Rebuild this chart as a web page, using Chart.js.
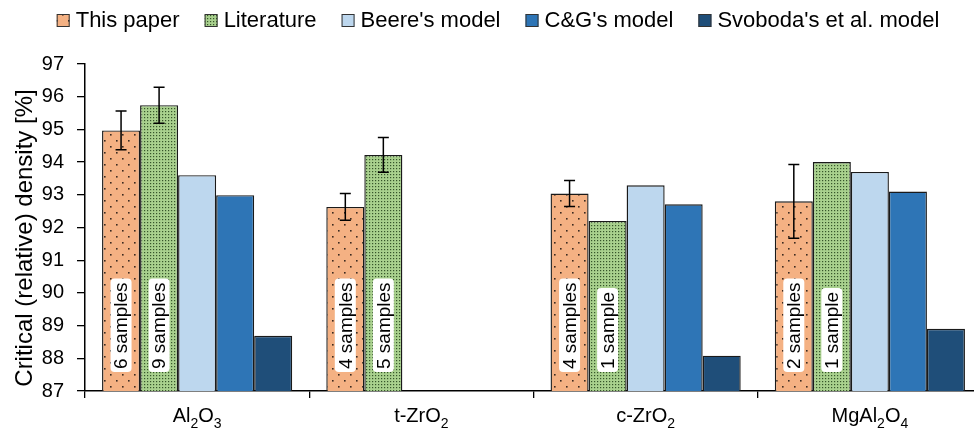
<!DOCTYPE html>
<html>
<head>
<meta charset="utf-8">
<script src="https://cdn.jsdelivr.net/npm/chart.js@4.4.1/dist/chart.umd.min.js"></script>
<style>
  html, body { margin: 0; padding: 0; background: #fff; overflow: hidden; }
  #wrap { width: 974px; height: 429px; overflow: hidden; }
</style>
</head>
<body>
<div id="wrap"><canvas id="c" width="996" height="429"></canvas></div>
<script>
// data
const categories = ['Al₂O₃', 't-ZrO₂', 'c-ZrO₂', 'MgAl₂O₄'];
const thisPaper = [94.97, 92.63, 93.04, 92.8];
const thisPaperErr = [0.59, 0.41, 0.4, 1.13];
const literature = [95.74, 94.22, 92.2, 94.0];
const literatureErr = [0.55, 0.53, null, null];
const beere = [93.6, null, 93.29, 93.7];
const cg = [92.99, null, 92.71, 93.1];
const svoboda = [88.69, null, 88.08, 88.9];
const thisPaperSamples = ['6 samples', '4 samples', '4 samples', '2 samples'];
const literatureSamples = ['9 samples', '5 samples', '1 sample', '1 sample'];
const yTicks = [87, 88, 89, 90, 91, 92, 93, 94, 95, 96, 97];
const yTitle = 'Critical (relative) density [%]';

const FONT = 'Liberation Sans, Arial, sans-serif';
const SUBS = { '₂': '2', '₃': '3', '₄': '4' };

const makePattern = (bg, dot, size, dots) => {
  const c = document.createElement('canvas');
  c.width = size; c.height = size;
  const g = c.getContext('2d');
  g.fillStyle = bg;
  g.fillRect(0, 0, size, size);
  g.fillStyle = dot;
  dots.forEach(d => g.fillRect(d[0], d[1], d[2], d[2]));
  return g.createPattern(c, 'repeat');
};

// legend, axis title and category labels (with real subscripts)
const texts = {
  id: 'texts',
  afterDraw(chart) {
    const g = chart.ctx;
    const x = chart.scales.x;
    const area = chart.chartArea;
    g.save();
    g.fillStyle = '#000';

    // legend
    g.font = '22px ' + FONT;
    const sets = chart.data.datasets;
    let total = 0;
    sets.forEach(d => { total += 13 + 6 + g.measureText(d.label).width; });
    total += 25 * (sets.length - 1);
    let lx = chart.width / 2 - total / 2;
    sets.forEach(d => {
      g.fillStyle = d.backgroundColor;
      g.fillRect(lx, 14, 13, 13);
      g.strokeStyle = '#333';
      g.lineWidth = 1;
      g.strokeRect(lx + 0.5, 14.5, 12, 12);
      g.fillStyle = '#000';
      g.textBaseline = 'middle';
      g.fillText(d.label, lx + 19, 21);
      lx += 19 + g.measureText(d.label).width + 25;
    });

    // y title
    g.save();
    g.font = '24px ' + FONT;
    g.translate(25, 238);
    g.rotate(-Math.PI / 2);
    g.textAlign = 'center';
    g.textBaseline = 'middle';
    g.fillText(yTitle, 0, 0);
    g.restore();

    // category labels
    g.textBaseline = 'alphabetic';
    categories.forEach((lab, i) => {
      const parts = [...lab].map(ch => SUBS[ch] ? { t: SUBS[ch], sub: true } : { t: ch, sub: false });
      let w = 0;
      parts.forEach(p => { g.font = (p.sub ? '14px ' : '20px ') + FONT; w += g.measureText(p.t).width; });
      let cx = x.getPixelForValue(i) - w / 2;
      const base = area.bottom + 31;
      parts.forEach(p => {
        g.font = (p.sub ? '14px ' : '20px ') + FONT;
        g.fillText(p.t, cx, p.sub ? base + 6 : base);
        cx += g.measureText(p.t).width;
      });
    });
    g.restore();
  }
};

// error bars + sample labels
const extras = {
  id: 'extras',
  afterDatasetsDraw(chart) {
    const g = chart.ctx;
    const y = chart.scales.y;
    const errs = [thisPaperErr, literatureErr];
    const vals = [thisPaper, literature];
    const labels = [thisPaperSamples, literatureSamples];
    g.save();
    [0, 1].forEach(di => {
      const meta = chart.getDatasetMeta(di);
      meta.data.forEach((bar, i) => {
        const txt = labels[di][i];
        g.save();
        g.font = '19px ' + FONT;
        const w = g.measureText(txt).width;
        g.translate(bar.x, y.bottom - 22);
        g.rotate(-Math.PI / 2);
        g.fillStyle = '#fff';
        g.beginPath();
        g.roundRect(-3, -10.5, w + 7, 21, 4);
        g.fill();
        g.fillStyle = '#000';
        g.textBaseline = 'middle';
        g.fillText(txt, 0, 1);
        g.restore();
        const e = errs[di][i];
        if (e == null) return;
        const v = vals[di][i];
        const top = y.getPixelForValue(v + e);
        const bot = y.getPixelForValue(v - e);
        g.strokeStyle = '#000';
        g.lineWidth = 1.5;
        g.beginPath();
        g.moveTo(bar.x, top); g.lineTo(bar.x, bot);
        g.moveTo(bar.x - 5.5, top); g.lineTo(bar.x + 5.5, top);
        g.moveTo(bar.x - 5.5, bot); g.lineTo(bar.x + 5.5, bot);
        g.stroke();
      });
    });
    g.restore();
  }
};

const setupChart = () => {
  const ctx = document.getElementById('c').getContext('2d');
  const orange = makePattern('#F4B183', '#3b2a20', 12, [[2, 2, 1.6], [8, 8, 1.6]]);
  const green = makePattern('#A9D18E', '#36552a', 3, [[0, 0, 1.2]]);

  const ds = (label, data, bg) => ({
    label, data, backgroundColor: bg,
    borderColor: '#1a1a1a', borderWidth: 1.4,
    borderSkipped: 'start',
    categoryPercentage: 0.848, barPercentage: 1.0
  });

  new Chart(ctx, {
    type: 'bar',
    data: {
      labels: categories,
      datasets: [
        ds('This paper', thisPaper, orange),
        ds('Literature', literature, green),
        ds("Beere's model", beere, '#BDD7EE'),
        ds("C&G's model", cg, '#2E75B6'),
        ds("Svoboda's et al. model", svoboda, '#1F4E79')
      ]
    },
    options: {
      responsive: false,
      animation: false,
      layout: { padding: { top: 64, right: 14, left: 0, bottom: 0 } },
      scales: {
        x: {
          afterFit: s => { s.height = 38; },
          grid: { offset: true, drawOnChartArea: false, drawTicks: true, tickLength: 7, color: '#000', lineWidth: 1.3 },
          border: { color: '#000', width: 1.5 },
          ticks: { display: false }
        },
        y: {
          min: 87, max: 97,
          afterFit: s => { s.width = 85; },
          afterBuildTicks: s => { s.ticks = yTicks.map(v => ({ value: v })); },
          grid: { drawOnChartArea: false, tickLength: 8, color: '#000', lineWidth: 1.3 },
          border: { color: '#000', width: 1.5 },
          ticks: { color: '#000', font: { family: FONT, size: 20 }, padding: 13 }
        }
      },
      plugins: {
        legend: { display: false },
        tooltip: { enabled: false }
      }
    },
    plugins: [extras, texts]
  });
};
document.addEventListener('DOMContentLoaded', () => {
  setupChart();
});
</script>
</body>
</html>
